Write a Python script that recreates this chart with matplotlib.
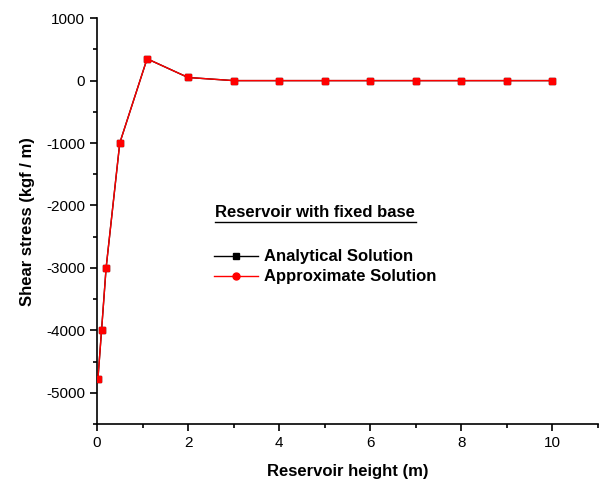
import matplotlib.pyplot as plt
from matplotlib.lines import Line2D

plt.rcParams['font.family'] = ['Liberation Sans', 'DejaVu Sans']
plt.rcParams['axes.unicode_minus'] = False

# Werte
hoehe = [0.02, 0.1, 0.2, 0.5, 1.1, 2, 3, 4, 5, 6, 7, 8, 9, 10]
analytisch = [-4780, -4000, -3000, -1000, 350, 50, 0, 0, 0, 0, 0, 0, 0, 0]
naeherung = [-4780, -4000, -3000, -1000, 350, 50, 0, 0, 0, 0, 0, 0, 0, 0]

x_ticks = [0, 2, 4, 6, 8, 10]
y_ticks = [-5000, -4000, -3000, -2000, -1000, 0, 1000]

fig = plt.figure(figsize=(6.04, 4.86), dpi=100)
ax = fig.add_axes([0.1606, 0.1276, 0.829, 0.835])

ax.plot(hoehe, analytisch, color='black', lw=1, marker='s', ms=4, zorder=2)
ax.plot(hoehe, naeherung, color='red', lw=1, marker='s', ms=4,
        mec='red', zorder=3)

ax.set_xlim(0, 11)
ax.set_ylim(-5500, 1000)
ax.set_xticks(x_ticks)
ax.set_yticks(y_ticks)
ax.set_xticks([1, 3, 5, 7, 9, 11], minor=True)
ax.set_yticks([-5500, -4500, -3500, -2500, -1500, -500, 500], minor=True)
ax.tick_params(which='major', direction='out', length=5, width=1.2, labelsize=11)
ax.tick_params(which='minor', direction='out', length=3, width=1.2)
ax.spines['top'].set_visible(False)
ax.spines['right'].set_visible(False)
ax.spines['left'].set_linewidth(1.2)
ax.spines['bottom'].set_linewidth(1.2)

ax.set_xlabel('Reservoir height (m)', fontsize=12, fontweight='bold', labelpad=10)
ax.set_ylabel('Shear stress (kgf / m)', fontsize=12, fontweight='bold', labelpad=8)

# Legende mit Ueberschrift
ax.text(0.236, 0.522, 'Reservoir with fixed base', transform=ax.transAxes,
        fontsize=12, fontweight='bold', va='center', ha='left')
ax.plot([0.236, 0.637], [0.497, 0.497], transform=ax.transAxes,
        color='black', lw=1, clip_on=False)
griffe = [Line2D([], [], color='black', lw=1, marker='s', ms=4),
          Line2D([], [], color='red', lw=1, marker='o', ms=5)]
ax.legend(griffe, ['Analytical Solution', 'Approximate Solution'],
          loc='upper left', bbox_to_anchor=(0.234, 0.43), frameon=False,
          prop={'size': 12, 'weight': 'bold'}, handlelength=2.6,
          handletextpad=0.4, labelspacing=0.3, borderpad=0, borderaxespad=0)

fig.savefig('out.png', dpi=100)
